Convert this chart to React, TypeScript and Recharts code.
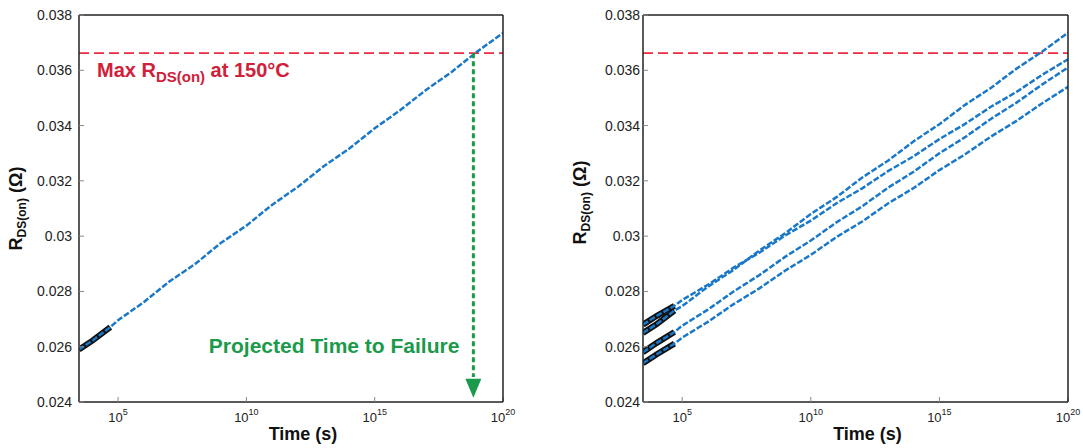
import React from "react";
import { LineChart, Line, XAxis, YAxis, ReferenceLine, ReferenceDot } from "recharts";

// time axis points (s), log spaced
const times = [3e3, 1e4, 5e4, 1e5, 1e6, 1e7, 1e8, 1e9, 1e10, 1e11, 1e12, 1e13, 1e14, 1e15, 1e16, 1e17, 1e18, 1e19, 1e20];
// first few points are measured data (drawn black), the rest is the projection
const MEASURED_POINTS = 3;

const singleDevice = [0.0259, 0.02622, 0.02671, 0.02696, 0.02761, 0.02836, 0.02899, 0.02975, 0.03038, 0.03113, 0.03178, 0.03252, 0.03316, 0.0339, 0.03456, 0.03529, 0.03594, 0.03668, 0.03735];

const deviceA = [0.0265, 0.02681, 0.02731, 0.02747, 0.02817, 0.02878, 0.02948, 0.0301, 0.0308, 0.03141, 0.03212, 0.03273, 0.03343, 0.03405, 0.03475, 0.03536, 0.03606, 0.03668, 0.03736];
const deviceB = [0.0268, 0.02711, 0.02748, 0.02769, 0.02824, 0.02886, 0.0294, 0.03002, 0.03056, 0.03119, 0.03173, 0.03235, 0.03289, 0.03351, 0.03406, 0.03468, 0.03522, 0.03584, 0.0364];
const deviceC = [0.0258, 0.02613, 0.02653, 0.02676, 0.02734, 0.028, 0.02859, 0.02925, 0.02984, 0.0305, 0.03108, 0.03175, 0.03233, 0.033, 0.03358, 0.03424, 0.03483, 0.03549, 0.0361];
const deviceD = [0.0254, 0.02572, 0.02611, 0.02633, 0.0269, 0.02754, 0.02811, 0.02875, 0.02932, 0.02997, 0.03053, 0.03118, 0.03174, 0.03239, 0.03296, 0.0336, 0.03417, 0.03481, 0.0354];

const xTicks = [1e5, 1e10, 1e15, 1e20];
const yTicks = [0.024, 0.026, 0.028, 0.03, 0.032, 0.034, 0.036, 0.038];
const X_DOMAIN = [3e3, 1e20];
const Y_DOMAIN = [0.024, 0.038];

const MAX_RDS = 0.03662;
const FAIL_TIME = 7e18;
const ARROW_TIP = 0.02415;

const BLUE = "#1a78c8";
const GREEN = "#1a9a4a";
const RED = "#ee2a3e";
const FONT = "'Liberation Sans', Arial, sans-serif";

const measured = (vals: number[], i: number) => (i < MEASURED_POINTS ? vals[i] : null);

const leftRows = times.map((t, i) => ({ t, v: singleDevice[i], vm: measured(singleDevice, i) }));

const rightRows = times.map((t, i) => ({
  t,
  a: deviceA[i],
  b: deviceB[i],
  c: deviceC[i],
  d: deviceD[i],
  am: measured(deviceA, i),
  bm: measured(deviceB, i),
  cm: measured(deviceC, i),
  dm: measured(deviceD, i),
}));

const PowerTick = (props: any) => {
  const { x, y, payload } = props;
  const exp = Math.round(Math.log10(payload.value));
  return (
    <text x={x} y={y} dy={20} textAnchor="middle" fontSize={13} fill="#222">
      <tspan>10</tspan>
      <tspan dy={-7} fontSize={9}>{exp}</tspan>
    </text>
  );
};

const timeLabel = (props: any) => {
  const vb = props.viewBox;
  return (
    <text x={vb.x + vb.width / 2 + 12} y={vb.y + 38} textAnchor="middle" fontSize={18} fontWeight="bold" fill="#111">
      Time (s)
    </text>
  );
};

const rdsLabel = (shift: number) => (props: any) => {
  const vb = props.viewBox;
  const x = vb.x + 22;
  const y = vb.y + vb.height / 2 + shift;
  return (
    <text x={x} y={y} transform={`rotate(-90 ${x} ${y})`} textAnchor="middle" fontSize={18} fontWeight="bold" fill="#111">
      <tspan>R</tspan>
      <tspan dy={4} fontSize={12}>DS(on)</tspan>
      <tspan dy={-4}> (Ω)</tspan>
    </text>
  );
};

const maxLabel = (props: any) => {
  const vb = props.viewBox;
  return (
    <text x={vb.x + 18} y={vb.y + 24} fontSize={20} fontWeight="bold" fill="#d0203a">
      <tspan>Max R</tspan>
      <tspan dy={5} fontSize={15}>DS(on)</tspan>
      <tspan dy={-5}> at 150°C</tspan>
    </text>
  );
};

const fmtY = (v: number) => String(+v.toFixed(3));

function frame(tickGap: number, titleShift: number) {
  return [
    <XAxis
      key="xb"
      dataKey="t"
      type="number"
      scale="log"
      domain={X_DOMAIN}
      allowDataOverflow
      ticks={xTicks}
      interval={0}
      tick={<PowerTick />}
      tickSize={-5}
      tickMargin={5}
      height={46}
      stroke="#222"
      strokeWidth={1.5}
      tickLine={{ stroke: "#888", strokeWidth: 1 }}
      label={{ content: timeLabel }}
    />,
    <XAxis
      key="xt"
      xAxisId="top"
      orientation="top"
      dataKey="t"
      type="number"
      scale="log"
      domain={X_DOMAIN}
      allowDataOverflow
      ticks={xTicks}
      interval={0}
      tick={false}
      tickSize={-5}
      height={1}
      stroke="#222"
      strokeWidth={1.5}
      tickLine={{ stroke: "#888", strokeWidth: 1 }}
    />,
    <YAxis
      key="yl"
      type="number"
      domain={Y_DOMAIN}
      ticks={yTicks}
      interval={0}
      allowDataOverflow
      tickFormatter={fmtY}
      tickSize={-5}
      tickMargin={5 + tickGap}
      width={79}
      stroke="#222"
      strokeWidth={1.5}
      tick={{ fill: "#222", fontSize: 14 }}
      tickLine={{ stroke: "#888", strokeWidth: 1 }}
      label={{ content: rdsLabel(titleShift) }}
    />,
    <YAxis
      key="yr"
      yAxisId="r"
      orientation="right"
      type="number"
      domain={Y_DOMAIN}
      ticks={yTicks}
      interval={0}
      allowDataOverflow
      tick={false}
      tickSize={-5}
      width={1}
      stroke="#222"
      strokeWidth={1.5}
      tickLine={{ stroke: "#888", strokeWidth: 1 }}
    />,
  ];
}

export default function App() {
  return (
    <div style={{ position: "absolute", left: 0, top: 0, width: 1083, height: 448, background: "#fff", fontFamily: FONT }}>
      <div style={{ position: "absolute", left: 0, top: 0 }}>
        <LineChart width={540} height={448} data={leftRows} margin={{ top: 14, right: 36, bottom: 0, left: 0 }}>
          {frame(7, 0)}
          <ReferenceLine y={MAX_RDS} stroke={RED} strokeWidth={1.8} strokeDasharray="10 5" label={{ content: maxLabel }} />
          <Line dataKey="vm" stroke="#111" strokeWidth={6} dot={false} isAnimationActive={false} />
          <Line dataKey="v" stroke={BLUE} strokeWidth={2.5} strokeDasharray="6 2" dot={false} isAnimationActive={false} />
          <ReferenceLine
            segment={[
              { x: FAIL_TIME, y: MAX_RDS },
              { x: FAIL_TIME, y: 0.0249 },
            ]}
            stroke={GREEN}
            strokeWidth={3}
            strokeDasharray="5 3"
          />
          <ReferenceDot
            x={FAIL_TIME}
            y={ARROW_TIP}
            r={0}
            shape={(p: any) => (
              <polygon points={`${p.cx},${p.cy} ${p.cx - 8},${p.cy - 19} ${p.cx + 8},${p.cy - 19}`} fill={GREEN} />
            )}
          />
          <ReferenceDot
            x={FAIL_TIME}
            y={0.026}
            r={0}
            shape={(p: any) => (
              <text x={p.cx - 14} y={p.cy + 6} textAnchor="end" fontSize={21} fontWeight="bold" fill={GREEN}>
                Projected Time to Failure
              </text>
            )}
          />
        </LineChart>
      </div>
      <div style={{ position: "absolute", left: 564, top: 0 }}>
        <LineChart width={519} height={448} data={rightRows} margin={{ top: 14, right: 14, bottom: 0, left: 0 }}>
          {frame(3, -6)}
          <ReferenceLine y={MAX_RDS} stroke={RED} strokeWidth={1.8} strokeDasharray="10 5" />
          <Line dataKey="am" stroke="#111" strokeWidth={6} dot={false} isAnimationActive={false} />
          <Line dataKey="bm" stroke="#111" strokeWidth={6} dot={false} isAnimationActive={false} />
          <Line dataKey="cm" stroke="#111" strokeWidth={6} dot={false} isAnimationActive={false} />
          <Line dataKey="dm" stroke="#111" strokeWidth={6} dot={false} isAnimationActive={false} />
          <Line dataKey="a" stroke={BLUE} strokeWidth={2.5} strokeDasharray="6 2" dot={false} isAnimationActive={false} />
          <Line dataKey="b" stroke={BLUE} strokeWidth={2.5} strokeDasharray="6 2" dot={false} isAnimationActive={false} />
          <Line dataKey="c" stroke={BLUE} strokeWidth={2.5} strokeDasharray="6 2" dot={false} isAnimationActive={false} />
          <Line dataKey="d" stroke={BLUE} strokeWidth={2.5} strokeDasharray="6 2" dot={false} isAnimationActive={false} />
        </LineChart>
      </div>
    </div>
  );
}
